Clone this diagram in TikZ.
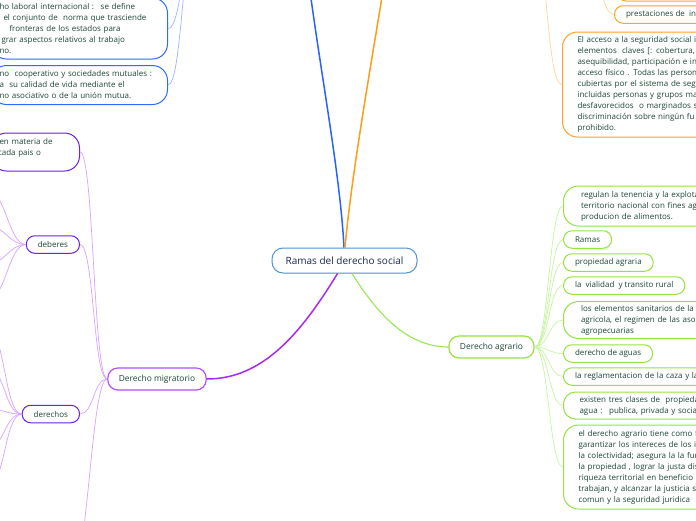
\documentclass[tikz,border=0pt]{standalone}
\usepackage{fontspec}
\setmainfont{Open Sans}
\usepackage{xcolor}
\usepackage{tikz}
\usetikzlibrary{calc}

\definecolor{txt}{HTML}{1E4634}
\definecolor{navy}{HTML}{1A2A4F}
\definecolor{hubc}{HTML}{4E93D2}
\definecolor{blueln}{HTML}{2962FF}
\definecolor{bluebox}{HTML}{2F6BFF}
\definecolor{bluethin}{HTML}{9DB5FF}
\definecolor{orln}{HTML}{FF9D1A}
\definecolor{orbox}{HTML}{FFA424}
\definecolor{orthin}{HTML}{FFD699}
\definecolor{grln}{HTML}{9BE84A}
\definecolor{grbox}{HTML}{94E340}
\definecolor{grthin}{HTML}{C8F5A0}
\definecolor{puln}{HTML}{A62BF2}
\definecolor{pubox}{HTML}{B54EFF}
\definecolor{viobox}{HTML}{6C1FF0}
\definecolor{puthin}{HTML}{D8A3FF}

\newcommand{\leaffont}{\fontsize{8}{11}\selectfont}
\newcommand{\topicfont}{\fontsize{8.4}{11}\selectfont}
\newcommand{\hubfont}{\fontsize{10}{12}\selectfont}

\begin{document}
\begin{tikzpicture}[x=1pt, y=-1pt,
  every node/.style={font=\leaffont, text=txt},
  hub/.style={draw=hubc, line width=1pt, rounded corners=11pt, fill=white, minimum width=145pt, minimum height=25pt, font=\hubfont, text=navy},
  topic/.style={draw, line width=1.2pt, rounded corners=10pt, fill=white, minimum height=22pt, inner xsep=11pt, font=\topicfont},
  leaf/.style={draw, line width=1pt, rounded corners=8.5pt, fill=white, minimum height=17.5pt, inner xsep=11.5pt, anchor=west},
  note/.style={draw, line width=1pt, rounded corners=15pt, fill=white, align=left, anchor=west},
  twig/.style={line width=0.7pt},
  trunk/.style={line width=1.5pt}]

  \useasboundingbox (0,0) rectangle (696,520);
  \fill[white] (0,0) rectangle (696,520);

  % ==== Center ====
  \node[hub] (social) at (344.5,260.5) {Ramas del derecho social};

  % ==== Top left: blue branch ====
  \coordinate (laboral) at (306,-40);
  \coordinate (blueup) at (196,-60);

  \node[note, draw=bluebox, anchor=east, text width=160pt, inner xsep=8pt, minimum height=61pt] (laboralint) at (168,28.5)
    {ho laboral internacional :~ se define\\\hspace*{4pt}el conjunto de~ norma que trasciende\\\hspace*{10pt}fronteras de los estados para\\\hspace*{2pt}grar aspectos relativos al trabajo\\no.};
  \node[note, draw=bluebox, anchor=east, text width=160pt, inner xsep=8pt, minimum height=39pt] (cooperativo) at (168,85)
    {no~ cooperativo y sociedades mutuales :\\a~ su calidad de vida mediante el\\no asociativo o de la unión mutua.};

  \draw[trunk, blueln] ([xshift=-0.5pt]social.north) .. controls (340,170) and (318,60) .. (laboral);
  \draw[twig, bluethin] (laboralint.east) .. controls +(14,0) and +(-14,0) .. (blueup);
  \draw[twig, bluethin] (cooperativo.east) .. controls +(14,0) and +(-14,0) .. (blueup);

  % ==== Top right: orange branch ====
  \coordinate (seguridad) at (388,-40);
  \coordinate (prestup) at (590,-25);
  \coordinate (accesoup) at (532,-60);

  \node[leaf, draw=orbox, minimum width=120pt, minimum height=22pt] (prevision) at (617,-10) {};
  \node[leaf, draw=orbox] (prestaciones) at (614,14.5) {prestaciones de~ in};
  \node[note, draw=orbox, text width=200pt, inner xsep=15pt, minimum height=105pt] (acceso) at (562,84.5)
    {El acceso a la seguridad social i\\elementos~ claves [: cobertura, c\\asequibilidad, participación e in\\acceso físico . Todas las persona\\cubiertas por el sistema de seg\\incluidas personas y grupos ma\\desfavorecidos~ o marginados s\\discriminación sobre ningún fu\\prohibido.};

  \draw[trunk, orln] ([xshift=0.5pt]social.north) .. controls (352,170) and (372,60) .. (seguridad);
  \draw[twig, orthin] (prestup) .. controls +(12,0) and +(-12,0) .. (prestaciones.west);
  \draw[twig, orthin] (accesoup) .. controls +(16,0) and +(-16,0) .. (acceso.west);

  % ==== Right: green branch ====
  \node[topic, draw=grbox] (agrario) at (491.5,347) {Derecho agrario};

  \node[note, draw=grbox, text width=160pt, inner xsep=17.5pt, minimum height=40pt] (tenencia) at (563,206)
    {regulan la tenencia y la explota\\territorio nacional con fines ag\\producion de alimentos.};
  \node[leaf, draw=grbox] (ramasag) at (563,239.5) {Ramas};
  \node[leaf, draw=grbox] (propiedad) at (563,262.5) {propiedad agraria};
  \node[leaf, draw=grbox] (vialidad) at (563,285.5) {la~ vialidad~ y transito rural};
  \node[note, draw=grbox, text width=160pt, inner xsep=17.5pt, minimum height=37pt] (sanitarios) at (563,320)
    {los elementos sanitarios de la p\\agricola, el regimen de las asoc\\agropecuarias};
  \node[leaf, draw=grbox] (aguas) at (563,353.5) {derecho de aguas};
  \node[leaf, draw=grbox, text width=140pt, align=left] (caza) at (563,376.5) {la reglamentacion de la caza y la};
  \node[note, draw=grbox, rounded corners=12pt, text width=160pt, inner xsep=16pt, minimum height=27pt] (clases) at (563,405.5)
    {existen tres clases de~ propieda\\agua :~ publica, privada y social};
  \node[note, draw=grbox, text width=160pt, inner xsep=15pt, minimum height=84pt] (fines) at (563,467)
    {el derecho agrario tiene como f\\garantizar los intereces de los i\\la colectividad; asegura la la fur\\la propiedad , lograr la justa dis\\riqueza territorial en beneficio d\\trabajan, y alcanzar la justicia se\\comun y la seguridad juridica};

  \draw[trunk, grln, line width=1.1pt] ([xshift=7.5pt]social.south) .. controls (375,310) and (405,347) .. (agrario.west);
  \foreach \k in {tenencia, ramasag, propiedad, vialidad, sanitarios, aguas, caza, clases, fines}
    \draw[twig, grthin] (agrario.east) .. controls +(14,0) and +(-14,0) .. (\k.west);

  % ==== Left: purple branch ====
  \node[topic, draw=pubox] (migra) at (157,379) {Derecho migratorio};

  \node[note, draw=viobox, anchor=east, text width=72pt, inner xsep=8pt, minimum height=38pt] (materia) at (80,152)
    {en materia de\\\hspace*{-1.5pt}cada pais o\\\mbox{}};
  \node[leaf, draw=viobox, anchor=east] (deberes) at (80,244.5) {deberes};
  \node[leaf, draw=viobox, anchor=east] (derechos) at (80,414) {derechos};
  \coordinate (migbajo) at (72,570);

  \draw[trunk, puln] ([xshift=-7pt]social.south) .. controls (300,335) and (262,379) .. (migra.east);
  \foreach \k in {materia, deberes, derechos}
    \draw[twig, puthin] (migra.west) .. controls +(-14,0) and +(14,0) .. (\k.east);
  \draw[twig, puthin] (migra.west) .. controls +(-16,0) and +(16,0) .. (migbajo);

  % deberes / derechos, cut at the left edge
  \foreach \y [count=\i] in {190,226,264,300}
    \coordinate (deb\i) at (-12,\y);
  \foreach \y [count=\i] in {330,368,409,447,486}
    \coordinate (der\i) at (-12,\y);
  \foreach \i in {1,...,4}
    \draw[twig, puthin] (deberes.west) .. controls +(-17,0) and +(17,0) .. (deb\i);
  \foreach \i in {1,...,5}
    \draw[twig, puthin] (derechos.west) .. controls +(-17,0) and +(17,0) .. (der\i);

\end{tikzpicture}
\end{document}
